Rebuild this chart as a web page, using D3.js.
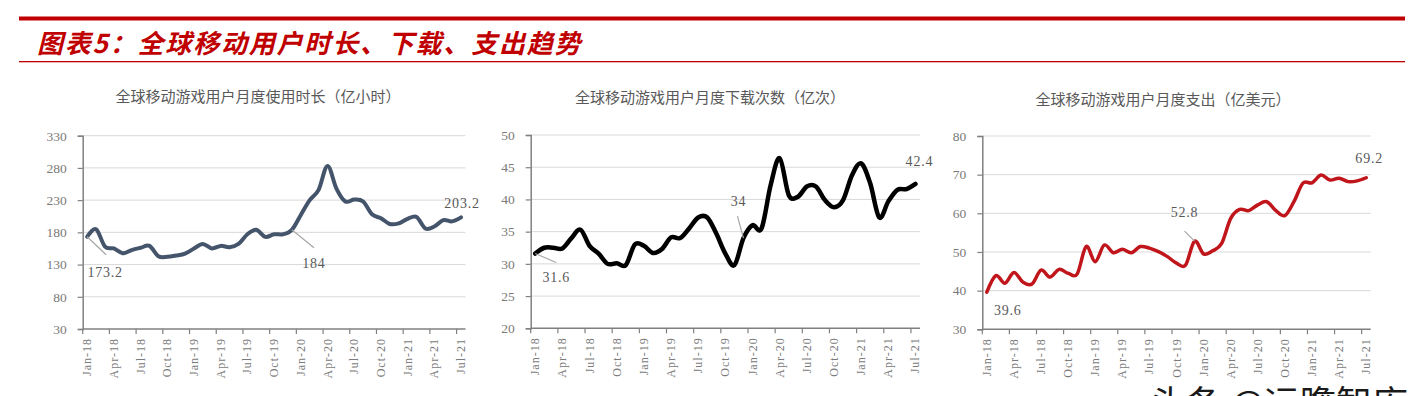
<!DOCTYPE html>
<html>
<head>
<meta charset="utf-8">
<script src="https://cdn.jsdelivr.net/npm/d3@7/dist/d3.min.js"></script>
<style>
  body { margin: 0; background: #fff; }
  svg { display: block; }
</style>
</head>
<body>
<svg id="chart" width="1425" height="396"></svg>
<script>
// month categories Jan-18 .. Jul-21
const monthNames = ["Jan", "Feb", "Mar", "Apr", "May", "Jun", "Jul", "Aug", "Sep", "Oct", "Nov", "Dec"];
const years = ["18", "19", "20", "21"];
const tickLabels = ["Jan-18", "Apr-18", "Jul-18", "Oct-18", "Jan-19", "Apr-19", "Jul-19", "Oct-19",
  "Jan-20", "Apr-20", "Jul-20", "Oct-20", "Jan-21", "Apr-21", "Jul-21"];

// 亿小时
const usageHours = [173.2, 185, 158, 155, 147.5, 152.5, 156, 159, 143, 142, 144, 147, 155, 162, 155, 159,
  157, 162, 177, 184, 173, 177, 177, 184, 207, 230, 246, 283, 248, 228, 231, 228, 208, 202, 193, 194,
  201, 204, 186, 189, 199, 197, 203.2];
// 亿次
const downloads = [31.6, 32.5, 32.5, 32.4, 34, 35.3, 32.8, 31.6, 30, 30.1, 29.8, 33, 32.8, 31.7, 32.3,
  34.1, 34, 35.5, 37.2, 37.2, 34.7, 31.6, 29.8, 34, 36, 35.5, 42.2, 46.4, 40.7, 40.4, 42, 42, 39.9, 38.8,
  39.9, 43.8, 45.6, 42.5, 37.2, 39.7, 41.5, 41.6, 42.4];
// 亿美元
const spending = [39.6, 43.9, 41.9, 44.7, 42.2, 41.7, 45.3, 43.5, 45.5, 44.5, 44.3, 51.4, 47.5, 51.8,
  49.8, 50.7, 49.8, 51.4, 51, 50.1, 48.8, 47.1, 46.6, 52.8, 49.5, 50.3, 52.2, 58.7, 61, 60.7, 62.2, 63,
  60.7, 59.4, 63, 67.8, 67.9, 69.9, 68.6, 69.1, 68.2, 68.4, 69.2];

let months = [];
years.forEach(function (y) {
  monthNames.forEach(function (m) { months.push(m + "-" + y); });
});
months = months.slice(0, usageHours.length);

const svg = d3.select("#chart");

// header
svg.append("rect").attr("x", 19).attr("y", 16.5).attr("width", 1386).attr("height", 4).attr("fill", "#c00000");
svg.append("rect").attr("x", 19).attr("y", 61).attr("width", 1386).attr("height", 1.3).attr("fill", "#c00000");
svg.append("text")
  .attr("x", 37).attr("y", 53)
  .attr("fill", "#c00000")
  .style("font-family", "'Noto Sans CJK SC'")
  .style("font-size", "26px")
  .style("font-weight", "bold")
  .style("font-style", "italic")
  .style("letter-spacing", "1.8px")
  .text("图表5：全球移动用户时长、下载、支出趋势");

let drawChart = function (cfg) {
  let g = svg.append("g");

  let x = d3.scaleBand().domain(months).range([cfg.left, cfg.right]).paddingInner(0).paddingOuter(0);
  let y = d3.scaleLinear().domain(cfg.domain).range([cfg.bottom, cfg.top]);
  let ticks = d3.range(cfg.domain[0], cfg.domain[1] + 0.001, cfg.step);

  // title
  g.append("text")
    .attr("x", cfg.titleX).attr("y", cfg.titleY)
    .attr("text-anchor", "middle")
    .attr("fill", "#595959")
    .style("font-family", "'Noto Sans CJK SC'")
    .style("font-size", "15px")
    .text(cfg.title);

  // grid
  g.selectAll(".grid").data(ticks.slice(1)).enter().append("line")
    .attr("x1", cfg.left).attr("x2", cfg.right)
    .attr("y1", function (d) { return y(d); })
    .attr("y2", function (d) { return y(d); })
    .attr("stroke", "#d9d9d9").attr("stroke-width", 1);

  // y axis
  let yAxis = d3.axisLeft(y).tickValues(ticks).tickSize(5).tickPadding(11).tickFormat(d3.format("d"));
  let ya = g.append("g").attr("transform", "translate(" + cfg.left + ",0)").call(yAxis);
  ya.select(".domain").attr("stroke", "#808080").attr("stroke-width", 1.5);
  ya.selectAll(".tick line").attr("stroke", "#808080").attr("stroke-width", 1.2);
  ya.selectAll(".tick text")
    .attr("fill", "#7a7a7a")
    .style("font-family", "'Liberation Serif'")
    .style("font-size", "13.5px");

  // x axis: ticks at category boundaries every 3 months, labels centred on category
  let tickIdx = tickLabels.map(function (t) { return months.indexOf(t); });
  g.append("line")
    .attr("x1", cfg.left).attr("x2", cfg.right)
    .attr("y1", cfg.bottom).attr("y2", cfg.bottom)
    .attr("stroke", "#808080").attr("stroke-width", 1.5);
  g.selectAll(".xtick").data(tickIdx).enter().append("line")
    .attr("x1", function (d) { return x(months[d]); })
    .attr("x2", function (d) { return x(months[d]); })
    .attr("y1", cfg.bottom).attr("y2", cfg.bottom + 5)
    .attr("stroke", "#808080").attr("stroke-width", 1.2);
  g.selectAll(".xlabel").data(tickLabels).enter().append("text")
    .attr("transform", function (d) {
      return "translate(" + (x(d) + x.bandwidth() / 2 + 4) + "," + (cfg.bottom + 9) + ") rotate(-90)";
    })
    .attr("text-anchor", "end")
    .attr("fill", "#7a7a7a")
    .style("font-family", "'Liberation Serif'")
    .style("font-size", "12px")
    .style("letter-spacing", "1px")
    .text(function (d) { return d; });

  // line
  let line = d3.line()
    .x(function (d, i) { return x(months[i]) + x.bandwidth() / 2; })
    .y(function (d) { return y(d); })
    .curve(d3.curveCatmullRom.alpha(0));
  g.append("path")
    .datum(cfg.values)
    .attr("d", line)
    .attr("fill", "none")
    .attr("stroke", cfg.color)
    .attr("stroke-width", cfg.width)
    .attr("stroke-linejoin", "round")
    .attr("stroke-linecap", "round");

  // data labels
  cfg.labels.forEach(function (l) {
    let px = x(months[l.i]) + x.bandwidth() / 2;
    let py = y(cfg.values[l.i]);
    if (l.lead) {
      g.append("line")
        .attr("x1", px + l.lead[0]).attr("y1", py + l.lead[1])
        .attr("x2", px + l.lead[2]).attr("y2", py + l.lead[3])
        .attr("stroke", "#a6a6a6").attr("stroke-width", 1.2);
    }
    g.append("text")
      .attr("x", px + l.dx).attr("y", py + l.dy)
      .attr("text-anchor", "middle")
      .attr("fill", "#595959")
      .style("font-family", "'Liberation Serif'")
      .style("font-size", "14px")
      .style("letter-spacing", "0.8px")
      .text(cfg.values[l.i]);
  });
};

drawChart({
  title: "全球移动游戏用户月度使用时长（亿小时）",
  titleX: 258, titleY: 102,
  left: 82.7, right: 465.5, top: 135.7, bottom: 329,
  domain: [30, 330], step: 50,
  values: usageHours, color: "#44546a", width: 4,
  labels: [
    {i: 0, dx: 18, dy: 40, lead: [0, 0, 19, 18]},
    {i: 23, dx: 22, dy: 38, lead: [0, 0, 22, 18]},
    {i: 42, dx: 1, dy: -9}
  ]
});

drawChart({
  title: "全球移动游戏用户月度下载次数（亿次）",
  titleX: 710, titleY: 103,
  left: 530.7, right: 920, top: 135, bottom: 328.3,
  domain: [20, 50], step: 5,
  values: downloads, color: "#000000", width: 4.5,
  labels: [
    {i: 0, dx: 21, dy: 28, lead: [0, 0, 21, 9]},
    {i: 23, dx: -5, dy: -32, lead: [-6, -22, 0, 0]},
    {i: 42, dx: 4, dy: -18}
  ]
});

drawChart({
  title: "全球移动游戏用户月度支出（亿美元）",
  titleX: 1163, titleY: 105,
  left: 982.3, right: 1370.7, top: 136, bottom: 329.3,
  domain: [30, 80], step: 10,
  values: spending, color: "#c0151b", width: 3.5,
  labels: [
    {i: 0, dx: 21, dy: 23},
    {i: 23, dx: -10, dy: -24, lead: [-10, -10, 0, 0]},
    {i: 42, dx: 3, dy: -15}
  ]
});

// watermark, cropped by the bottom edge as in the source image
svg.append("text")
  .attr("x", 1150).attr("y", 417)
  .attr("fill", "#1a1a1a")
  .style("font-family", "'Noto Sans CJK SC'")
  .style("font-size", "36px")
  .text("头条 @远瞻智库");
</script>
</body>
</html>
